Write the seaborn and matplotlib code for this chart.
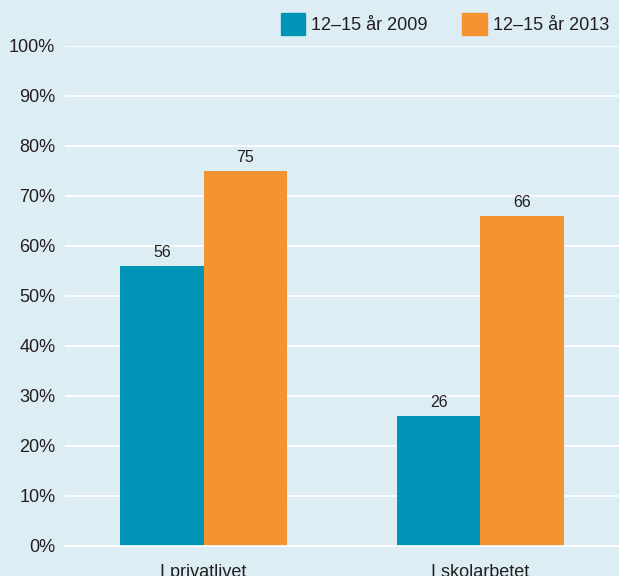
import pandas as pd
import matplotlib
matplotlib.use("Agg")
import matplotlib.pyplot as plt
import seaborn as sns
from matplotlib.ticker import FixedLocator

categories = ["I privatlivet", "I skolarbetet"]
series = ["12\u201315 år 2009", "12\u201315 år 2013"]
values_2009 = [56, 26]
values_2013 = [75, 66]
y_ticks = [0, 10, 20, 30, 40, 50, 60, 70, 80, 90, 100]

bg = "#ddedf4"
teal = "#0095b6"
orange = "#f39430"
txt = "#231f20"

df = pd.DataFrame({
    "kategori": categories * 2,
    "grupp": [series[0]] * 2 + [series[1]] * 2,
    "andel": values_2009 + values_2013,
})

sns.set_style("white")
plt.rcParams["font.family"] = ["Liberation Sans", "DejaVu Sans"]

fig = plt.figure(figsize=(6.19, 5.76), dpi=100, facecolor=bg)
ax = fig.add_axes([65 / 619, 30 / 576, 554 / 619, 500 / 576])
ax.set_facecolor(bg)

sns.barplot(data=df, x="kategori", y="andel", hue="grupp", order=categories,
            hue_order=series, palette=[teal, orange], width=0.6, gap=0,
            saturation=1, linewidth=0, ax=ax, legend=False)

for cont in ax.containers:
    ax.bar_label(cont, padding=4, fontsize=11.5, color=txt)

ax.set_ylim(0, 100)
ax.set_xlim(-0.5, 1.5)
ax.set_yticks(y_ticks)
ax.set_yticklabels([f"{t}%" for t in y_ticks])
ax.yaxis.grid(True, color="white", linewidth=1.2)
ax.set_axisbelow(True)
ax.set_xlabel("")
ax.set_ylabel("")

for s in ["top", "right", "left"]:
    ax.spines[s].set_visible(False)
ax.spines["bottom"].set_color("white")
ax.spines["bottom"].set_linewidth(1.2)

ax.tick_params(axis="y", length=0, pad=7, labelsize=13, labelcolor=txt)
ax.tick_params(axis="x", which="major", length=0, pad=13, labelsize=13, labelcolor=txt)
ax.xaxis.set_minor_locator(FixedLocator([-0.5, 0.5, 1.5]))
ax.tick_params(axis="x", which="minor", length=11, width=1.2, color="white", direction="out")

handles = [plt.Rectangle((0, 0), 1, 1, color=teal), plt.Rectangle((0, 0), 1, 1, color=orange)]
fig.legend(handles, series, loc="upper right", bbox_to_anchor=(1.0, 0.995), ncol=2,
           frameon=False, fontsize=13, labelcolor=txt, handlelength=1.35,
           handleheight=1.5, handletextpad=0.35, columnspacing=1.9,
           borderaxespad=0.15)

fig.savefig("out.png", dpi=100, facecolor=bg)
